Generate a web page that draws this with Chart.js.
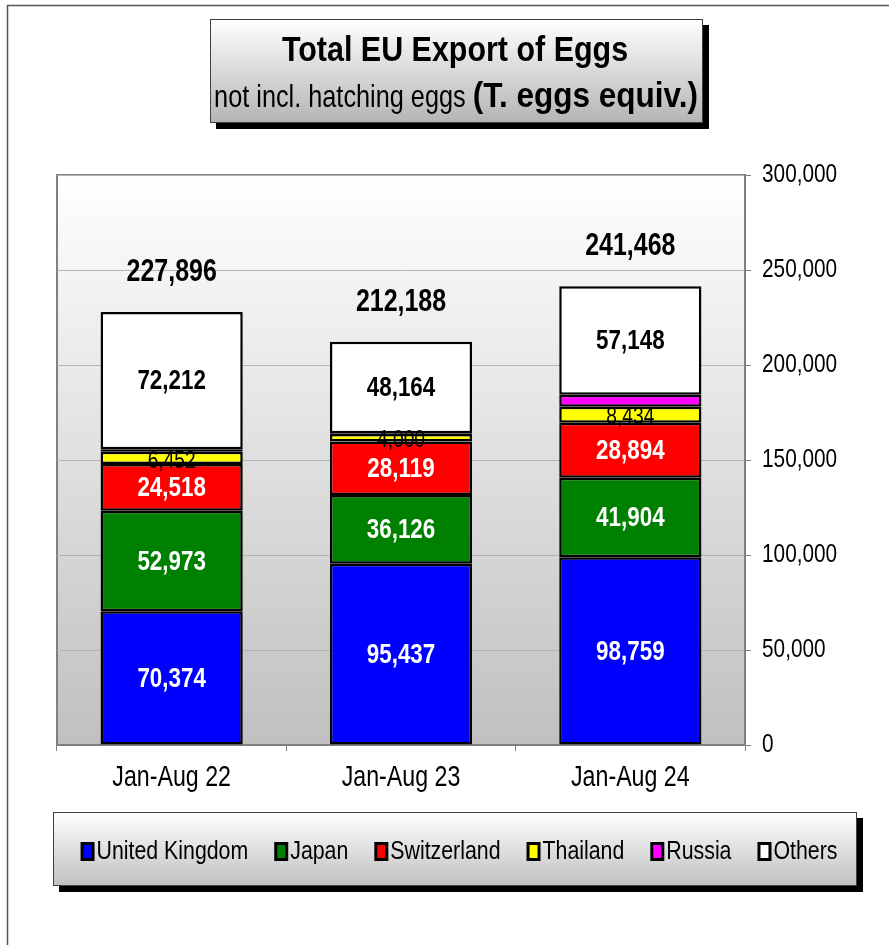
<!DOCTYPE html>
<html>
<head>
<meta charset="utf-8">
<style>
	html, body { margin: 0; padding: 0; background: #fff; }
	canvas { display: block; }
</style>
<script src="https://cdn.jsdelivr.net/npm/chart.js@4.4.1/dist/chart.umd.min.js"></script>
</head>
<body>
<canvas id="chart" width="889" height="945"></canvas>
<script>
(function () {
	'use strict';

	// values (tonnes, egg equivalent)
	const categories = ['Jan-Aug 22', 'Jan-Aug 23', 'Jan-Aug 24'];
	const unitedKingdom = [70374, 95437, 98759];
	const japan = [52973, 36126, 41904];
	const switzerland = [24518, 28119, 28894];
	const thailand = [6452, 4000, 8434];
	const russia = [1367, 342, 6329]; // not labelled, estimated from the totals
	const others = [72212, 48164, 57148];
	const totals = [227896, 212188, 241468];

	// no Arial Narrow here, so condensed text is drawn squeezed horizontally
	const SANS = "'Liberation Sans', Arial, sans-serif";
	const SQUEEZE = 0.8;

	const fmt = function(v) {
		return new Intl.NumberFormat('en-US').format(v);
	};

	function drawText(ctx, text, x, y, font, sx, align) {
		ctx.save();
		ctx.font = font;
		const w = ctx.measureText(text).width * sx;
		let left = x;
		if (align === 'center') {
			left = x - w / 2;
		} else if (align === 'right') {
			left = x - w;
		}
		ctx.translate(left, y);
		ctx.scale(sx, 1);
		ctx.textAlign = 'left';
		ctx.fillText(text, 0, 0);
		ctx.restore();
		return w;
	}

	function textWidth(ctx, text, font, sx) {
		ctx.save();
		ctx.font = font;
		const w = ctx.measureText(text).width * sx;
		ctx.restore();
		return w;
	}

	function shadowBox(ctx, x, y, w, h, top, bottom) {
		ctx.save();
		ctx.fillStyle = '#000';
		ctx.fillRect(x + 6, y + 6, w, h);
		const g = ctx.createLinearGradient(0, y, 0, y + h);
		g.addColorStop(0, top);
		g.addColorStop(1, bottom);
		ctx.fillStyle = g;
		ctx.fillRect(x, y, w, h);
		ctx.strokeStyle = '#404040';
		ctx.lineWidth = 1;
		ctx.strokeRect(x + 0.5, y + 0.5, w - 1, h - 1);
		ctx.restore();
	}

	const decorations = {
		id: 'decorations',
		beforeDraw(chart) {
			const ctx = chart.ctx;
			const area = chart.chartArea;
			ctx.save();
			ctx.fillStyle = '#fff';
			ctx.fillRect(0, 0, chart.width, chart.height);

			// outer frame (top and left only)
			ctx.strokeStyle = '#555';
			ctx.lineWidth = 1.5;
			ctx.beginPath();
			ctx.moveTo(7.5, chart.height);
			ctx.lineTo(7.5, 5.5);
			ctx.lineTo(chart.width, 5.5);
			ctx.stroke();

			// plot background
			const g = ctx.createLinearGradient(0, area.top, 0, area.bottom);
			g.addColorStop(0, '#ffffff');
			g.addColorStop(1, '#c0c0c0');
			ctx.fillStyle = g;
			ctx.fillRect(area.left, area.top, area.right - area.left, area.bottom - area.top);
			ctx.strokeStyle = '#808080';
			ctx.lineWidth = 2;
			ctx.beginPath();
			ctx.moveTo(area.left, area.bottom);
			ctx.lineTo(area.left, area.top);
			ctx.lineTo(area.right, area.top);
			ctx.stroke();

			// title box
			shadowBox(ctx, 210, 19, 493, 104, '#ffffff', '#b4b4b4');
			ctx.fillStyle = '#000';
			ctx.textBaseline = 'alphabetic';
			drawText(ctx, 'Total EU Export of Eggs', 455, 61, 'bold 35px ' + SANS, 0.87, 'center');

			const partA = 'not incl. hatching eggs ';
			const partB = '(T. eggs equiv.)';
			const fontA = '32px ' + SANS;
			const fontB = 'bold 35px ' + SANS;
			const wA = textWidth(ctx, partA, fontA, 0.79);
			const wB = textWidth(ctx, partB, fontB, 0.9);
			const x = 456 - (wA + wB) / 2;
			drawText(ctx, partA, x, 107, fontA, 0.79, 'left');
			drawText(ctx, partB, x + wA, 107, fontB, 0.9, 'left');
			ctx.restore();
		},
		afterDraw(chart) {
			const ctx = chart.ctx;
			const area = chart.chartArea;
			const xScale = chart.scales.x;
			const yScale = chart.scales.y;
			ctx.save();
			ctx.textBaseline = 'middle';
			ctx.fillStyle = '#000';

			// axis labels
			yScale.ticks.forEach(function(t) {
				drawText(ctx, fmt(t.value), area.right + 17, yScale.getPixelForValue(t.value), '26px ' + SANS, SQUEEZE, 'left');
			});
			chart.data.labels.forEach(function(lab, i) {
				drawText(ctx, lab, xScale.getPixelForValue(i), area.bottom + 33, '29px ' + SANS, SQUEEZE, 'center');
			});

			// labels inside the segments
			chart.data.datasets.forEach(function(ds, di) {
				if (!ds.labelFont) {
					return;
				}
				const meta = chart.getDatasetMeta(di);
				meta.data.forEach(function(bar, i) {
					ctx.fillStyle = ds.labelColor;
					drawText(ctx, fmt(ds.data[i]), bar.x, (bar.y + bar.base) / 2 + ds.labelShift, ds.labelFont, SQUEEZE, 'center');
				});
			});

			// totals above the stacks
			ctx.fillStyle = '#000';
			totals.forEach(function(t, i) {
				drawText(ctx, fmt(t), xScale.getPixelForValue(i), yScale.getPixelForValue(t) - 40, 'bold 32px ' + SANS, 0.78, 'center');
			});

			// legend
			const box = { x: 53, y: 812, w: 804, h: 74 };
			shadowBox(ctx, box.x, box.y, box.w, box.h, '#ffffff', '#c0c0c0');
			const legendFont = '26px ' + SANS;
			const gap = 26;
			const items = chart.data.datasets.map(function(ds) {
				return { ds: ds, w: 16 + textWidth(ctx, ds.label, legendFont, 0.82) };
			});
			const total = items.reduce(function(s, it) { return s + it.w; }, 0) + gap * (items.length - 1);
			let lx = box.x + box.w / 2 - total / 2 + 4;
			const cy = box.y + box.h / 2 + 2;
			items.forEach(function(it) {
				ctx.fillStyle = '#000';
				ctx.fillRect(lx, cy - 9, 14, 19);
				ctx.fillStyle = it.ds.backgroundColor;
				ctx.fillRect(lx + 3, cy - 6, 8, 13);
				ctx.fillStyle = '#000';
				drawText(ctx, it.ds.label, lx + 16, cy + 1, legendFont, 0.82, 'left');
				lx += it.w + gap;
			});
			ctx.restore();
		}
	};

	function series(label, data, color, labelFont, labelColor, labelShift) {
		return {
			label: label,
			data: data,
			backgroundColor: color,
			borderColor: '#000',
			borderWidth: 2.5,
			borderSkipped: false,
			barPercentage: 0.62,
			categoryPercentage: 1,
			labelFont: labelFont,
			labelColor: labelColor,
			labelShift: labelShift || 1
		};
	}

	const boldLabel = 'bold 28px ' + SANS;

	new Chart(document.getElementById('chart'), {
		type: 'bar',
		data: {
			labels: categories,
			datasets: [
				series('United Kingdom', unitedKingdom, '#0000ff', boldLabel, '#fff'),
				series('Japan', japan, '#008000', boldLabel, '#fff'),
				series('Switzerland', switzerland, '#ff0000', boldLabel, '#fff'),
				series('Thailand', thailand, '#ffff00', '24px ' + SANS, '#000', 3),
				series('Russia', russia, '#ff00ff', null, null),
				series('Others', others, '#ffffff', boldLabel, '#000')
			]
		},
		options: {
			responsive: false,
			animation: false,
			devicePixelRatio: 1,
			layout: {
				padding: { left: 57, top: 175, right: 0, bottom: 0 }
			},
			plugins: {
				legend: { display: false },
				tooltip: { enabled: false }
			},
			scales: {
				x: {
					stacked: true,
					grid: {
						drawOnChartArea: false,
						tickLength: 6,
						tickColor: '#808080',
						color: '#808080'
					},
					border: { color: '#808080', width: 2 },
					ticks: { display: false },
					afterFit(scale) {
						scale.height = 200;
					}
				},
				y: {
					position: 'right',
					stacked: true,
					min: 0,
					max: 300000,
					grid: {
						color: '#b4b4b4',
						lineWidth: 1,
						tickLength: 6,
						tickColor: '#808080'
					},
					border: { color: '#808080', width: 2 },
					ticks: {
						stepSize: 50000,
						display: false
					},
					afterFit(scale) {
						scale.width = 144;
					}
				}
			}
		},
		plugins: [decorations]
	});
})();
</script>
</body>
</html>
